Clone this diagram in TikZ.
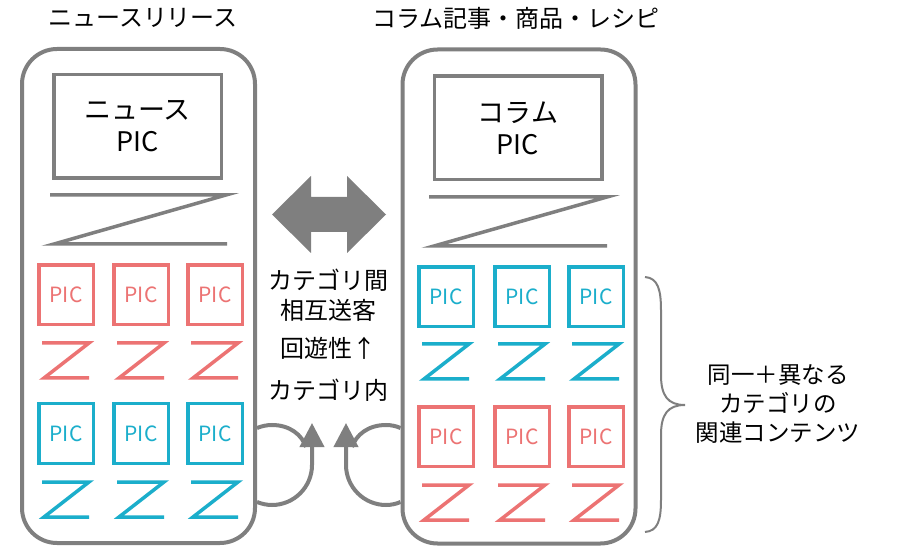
\documentclass[tikz,border=0pt]{standalone}
\usepackage{fontspec}
\setmainfont{Noto Sans CJK JP}
\usetikzlibrary{arrows.meta}
\definecolor{pgray}{RGB}{127,127,127}
\definecolor{pred}{RGB}{236,115,115}
\definecolor{pblue}{RGB}{27,174,203}
% Z-shaped text placeholder under each thumbnail
\newcommand{\zmark}[3]{\draw[#1, line width=3.5pt] ({#2-24},#3) -- ({#2+23},#3) -- ({#2-22},{#3+35}) -- ({#2+23},{#3+35});}

\begin{document}
\begin{tikzpicture}[x=1pt, y=-1pt,
    panel/.style={draw=pgray, line width=4pt, rounded corners=35pt, fill=white,
                  minimum width=233pt, minimum height=494pt},
    mainpic/.style={draw=pgray, line width=3.5pt, minimum width=167.5pt, minimum height=103.5pt,
                    align=center, font=\fontsize{27}{32}\selectfont},
    thumb/.style={line width=3.5pt, minimum width=54.5pt, minimum height=59.5pt,
                  font=\fontsize{21}{21}\selectfont},
    txt/.style={align=center, font=\fontsize{24}{30}\selectfont},
    cycline/.style={draw=pgray, line width=4pt},
  ]
  \useasboundingbox (0,0) rectangle (898,548);

  % titles
  \node[txt] (newstitle) at (143,18) {ニュースリリース};
  \node[txt] (coltitle) at (516,18) {コラム記事・商品・レシピ};

  % panels
  \node[panel] (news) at (138.5,296) {};
  \node[panel] (column) at (519,296.5) {};

  \node[mainpic] (newspic) at (137.5,126.5) {ニュース\\PIC};
  \node[mainpic] (colpic) at (518,128) {コラム\\PIC};

  \draw[pgray, line width=3.5pt] (50,195) -- (226,195) -- (54,244) -- (227,244);
  \draw[pgray, line width=3.5pt] (429,197) -- (607,197) -- (434,246) -- (607,246);

  % thumbnails
  \foreach \x [count=\i] in {66,141,215} {
    \node[thumb, draw=pred, text=pred] (na\i) at (\x,295) {PIC};
    \zmark{pred}{\x}{343}
    \node[thumb, draw=pblue, text=pblue] (nb\i) at (\x,433.5) {PIC};
    \zmark{pblue}{\x}{482}
  }
  \foreach \x [count=\i] in {446,522,596} {
    \node[thumb, draw=pblue, text=pblue] (ca\i) at (\x,297) {PIC};
    \zmark{pblue}{\x}{344}
    \node[thumb, draw=pred, text=pred] (cb\i) at (\x,436.5) {PIC};
    \zmark{pred}{\x}{485}
  }

  % between the panels
  \fill[pgray] (272,214.5) -- (311,176) -- (311,197) -- (347,197) -- (347,176) -- (386,214.5)
    -- (347,253) -- (347,232) -- (311,232) -- (311,253) -- cycle;
  \node[txt] (cross) at (328,295) {カテゴリ間\\相互送客};
  \node[txt] (roam) at (328,348) {回遊性↑};
  \node[txt] (inner) at (328,390) {カテゴリ内};

  % loops
  \draw[cycline, -{Triangle[length=24pt,width=24pt]}] (news.east |- 0,502)
    .. controls (262,504) and (267,505) .. (272,505)
    .. controls (294,505) and (312,487) .. (312,465) -- (312,423);
  \draw[cycline] (news.east |- 0,428) .. controls (262,426) and (267,425) .. (272,425)
    .. controls (290,425) and (302,435) .. (306,447);
  \draw[cycline, -{Triangle[length=24pt,width=24pt]}] (column.west |- 0,502)
    .. controls (396,504) and (391,505) .. (386,505)
    .. controls (364,505) and (346,487) .. (346,465) -- (346,423);
  \draw[cycline] (column.west |- 0,428) .. controls (396,426) and (391,425) .. (386,425)
    .. controls (368,425) and (356,435) .. (352,447);

  % brace
  \node[txt, font=\fontsize{23.5}{29}\selectfont] (related) at (778,404) {同一＋異なる\\カテゴリの\\関連コンテンツ};
  \draw[pgray, line width=2pt] (645,277) .. controls (658,278) and (661,290) .. (661,310) -- (661,375)
    .. controls (661,396) and (668,405) .. (685,405)
    .. controls (668,405) and (661,414) .. (661,435) -- (661,500)
    .. controls (661,520) and (658,531) .. (645,532);
\end{tikzpicture}
\end{document}
